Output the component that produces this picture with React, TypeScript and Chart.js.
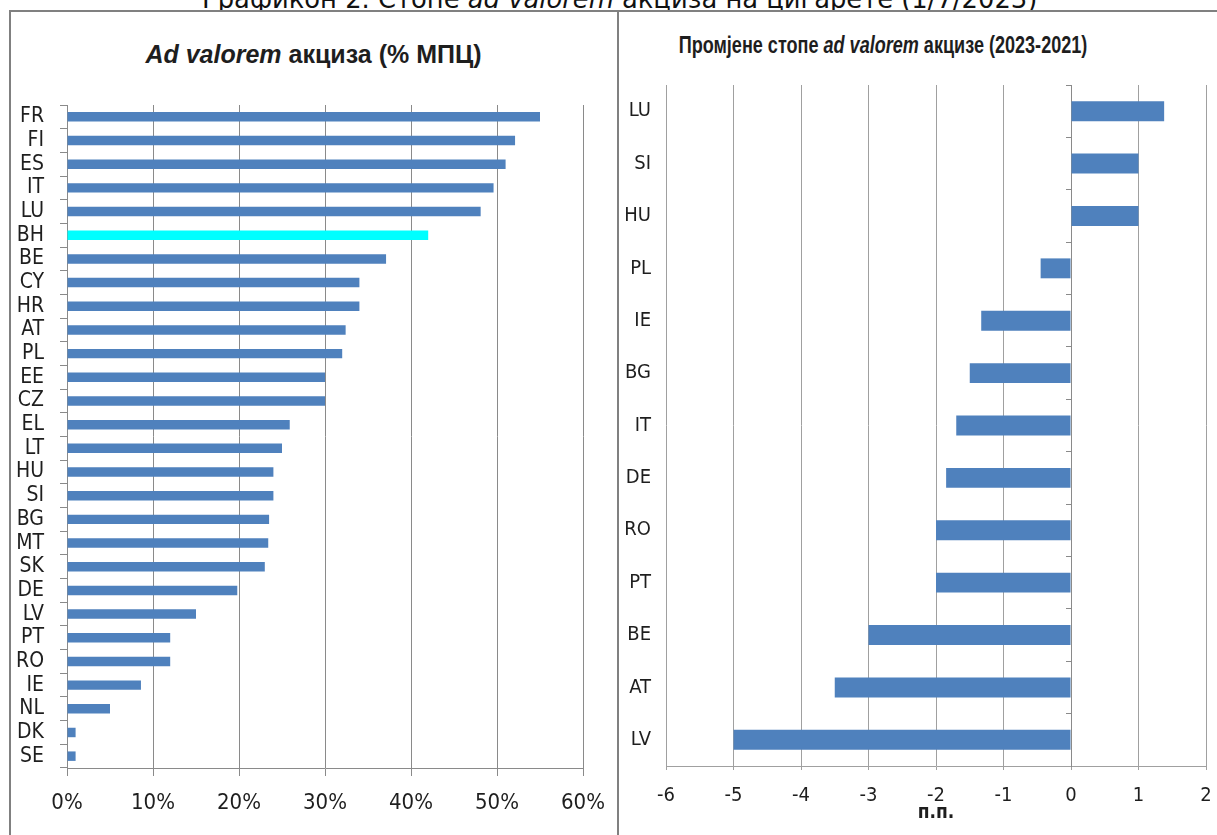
import React, { useEffect, useRef } from "react";
import { Chart, registerables } from "chart.js";

Chart.register(...registerables);

// ---------- data ----------
const leftCategories = [
  "FR", "FI", "ES", "IT", "LU", "BH", "BE", "CY", "HR", "AT", "PL", "EE", "CZ", "EL",
  "LT", "HU", "SI", "BG", "MT", "SK", "DE", "LV", "PT", "RO", "IE", "NL", "DK", "SE",
];
const leftValues = [
  55.0, 52.1, 51.0, 49.6, 48.1, 42.0, 37.1, 34.0, 34.0, 32.4, 32.0, 30.0, 30.0, 25.9,
  25.0, 24.0, 24.0, 23.5, 23.4, 23.0, 19.8, 15.0, 12.0, 12.0, 8.6, 5.0, 1.0, 1.0,
];
const leftTickValues = [0, 10, 20, 30, 40, 50, 60];
const highlightCategory = "BH";

const rightCategories = ["LU", "SI", "HU", "PL", "IE", "BG", "IT", "DE", "RO", "PT", "BE", "AT", "LV"];
const rightValues = [1.38, 1.0, 1.0, -0.45, -1.33, -1.5, -1.7, -1.85, -2.0, -2.0, -3.0, -3.5, -5.0];
const rightTickValues = [-6, -5, -4, -3, -2, -1, 0, 1, 2];
const rightAxisTitle = "п.п.";

// ---------- style ----------
const BLUE = "#4F81BD";
const CYAN = "#00FFFF";
const GRID = "#8a8a8a";
const GRID_R = "#a0a0a0";
const TEXT = "#1e1e1e";
const NARROW = "'DejaVu Sans Condensed', 'Liberation Sans Narrow', 'Liberation Sans', sans-serif";
const WIDE = "'Liberation Sans', Arial, sans-serif";

export default function App() {
  const leftRef = useRef<HTMLCanvasElement>(null);
  const rightRef = useRef<HTMLCanvasElement>(null);

  useEffect(() => {
    const left = new Chart(leftRef.current!, {
      type: "bar",
      data: {
        labels: leftCategories,
        datasets: [
          {
            data: leftValues,
            backgroundColor: leftCategories.map((c) => (c === highlightCategory ? CYAN : BLUE)),
            categoryPercentage: 1,
            barPercentage: 0.4,
            borderWidth: 0,
            xAxisID: "x",
            yAxisID: "y",
          },
        ],
      },
      options: {
        indexAxis: "y",
        animation: false,
        responsive: false,
        maintainAspectRatio: false,
        layout: { padding: { top: 93, right: 57, bottom: 0, left: 0 } },
        plugins: { legend: { display: false }, tooltip: { enabled: false }, title: { display: false } },
        scales: {
          x: {
            type: "linear",
            min: leftTickValues[0],
            max: leftTickValues[leftTickValues.length - 1],
            afterBuildTicks: (s: any) => {
              s.ticks = leftTickValues.map((v) => ({ value: v }));
            },
            ticks: {
              callback: (v: any) => `${v}%`,
              font: { family: NARROW, size: 22 },
              color: TEXT,
              padding: 14,
              maxRotation: 0,
              autoSkip: false,
            },
            grid: { color: GRID, lineWidth: 1, tickLength: 8 },
            border: { color: GRID, width: 1 },
            afterFit: (s: any) => {
              s.height = 67;
            },
          },
          y: {
            type: "category",
            offset: true,
            grid: { offset: true, drawOnChartArea: false, tickLength: 7, color: GRID },
            border: { color: GRID, width: 1 },
            ticks: { font: { family: NARROW, size: 21 }, color: TEXT, padding: 16, autoSkip: false },
            afterFit: (s: any) => {
              s.width = 56;
            },
          },
        },
      } as any,
    });

    const right = new Chart(rightRef.current!, {
      type: "bar",
      data: {
        labels: rightCategories,
        datasets: [
          {
            data: rightValues,
            backgroundColor: BLUE,
            categoryPercentage: 1,
            barPercentage: 0.38,
            borderWidth: 0,
            xAxisID: "x",
            yAxisID: "y",
          },
        ],
      },
      options: {
        indexAxis: "y",
        animation: false,
        responsive: false,
        maintainAspectRatio: false,
        layout: { padding: { top: 73, right: 54, bottom: 0, left: 0 } },
        plugins: { legend: { display: false }, tooltip: { enabled: false }, title: { display: false } },
        scales: {
          x: {
            type: "linear",
            min: rightTickValues[0],
            max: rightTickValues[rightTickValues.length - 1],
            afterBuildTicks: (s: any) => {
              s.ticks = rightTickValues.map((v) => ({ value: v }));
            },
            ticks: {
              font: { family: NARROW, size: 20 },
              color: TEXT,
              padding: 14,
              maxRotation: 0,
              autoSkip: false,
            },
            grid: { color: GRID_R, lineWidth: 1, tickLength: 4 },
            border: { color: GRID_R, width: 1 },
            title: {
              display: true,
              text: rightAxisTitle,
              font: { family: NARROW, size: 19, weight: "bold" },
              color: TEXT,
              padding: { top: 0, bottom: 11 },
            },
            afterFit: (s: any) => {
              s.height = 69;
            },
          },
          y: {
            type: "category",
            offset: true,
            grid: { display: false, drawTicks: false },
            border: { display: false },
            ticks: { font: { family: NARROW, size: 20 }, color: TEXT, padding: 15, autoSkip: false },
            afterFit: (s: any) => {
              s.width = 46;
            },
          },
          y2: {
            type: "category",
            position: { x: 0 },
            offset: true,
            grid: { offset: true, drawOnChartArea: false, tickLength: 5, color: GRID },
            border: { color: GRID, width: 1 },
            ticks: { display: false },
          },
        },
      } as any,
    });

    return () => {
      left.destroy();
      right.destroy();
    };
  }, []);

  return (
    <div
      style={{
        position: "fixed",
        left: 0,
        top: 0,
        width: 1217,
        height: 835,
        background: "#fff",
        overflow: "hidden",
      }}
    >
      <div
        style={{
          position: "absolute",
          left: 202,
          top: -16,
          fontFamily: "'DejaVu Sans', sans-serif",
          fontSize: 25.8,
          lineHeight: "30px",
          whiteSpace: "nowrap",
          color: "#111",
        }}
      >
        Графикон 2. Стопе <span style={{ fontStyle: "italic" }}>ad valorem</span> акциза на цигарете (1/7/2023)
      </div>
      <div
        style={{
          position: "absolute",
          left: 9,
          top: 10,
          width: 1240,
          height: 840,
          background: "#fff",
          borderTop: "2px solid #808080",
          borderLeft: "2px solid #808080",
        }}
      />
      <div style={{ position: "absolute", left: 617, top: 10, width: 2, height: 830, background: "#808080" }} />

      <div
        style={{
          position: "absolute",
          left: 9,
          width: 609,
          top: 39,
          textAlign: "center",
          fontFamily: WIDE,
          fontWeight: "bold",
          fontSize: 25,
          lineHeight: "30px",
          whiteSpace: "nowrap",
          color: TEXT,
        }}
      >
        <span style={{ fontStyle: "italic" }}>Ad valorem</span> акциза (% МПЦ)
      </div>
      <div
        style={{
          position: "absolute",
          left: 583,
          width: 600,
          top: 32,
          textAlign: "center",
          fontFamily: WIDE,
          fontWeight: "bold",
          fontSize: 23,
          lineHeight: "26px",
          whiteSpace: "nowrap",
          color: TEXT,
          transform: "scaleX(0.785)",
          transformOrigin: "50% 50%",
        }}
      >
        Промјене стопе <span style={{ fontStyle: "italic" }}>ad valorem</span> акцизе (2023-2021)
      </div>

      <canvas
        ref={leftRef}
        width={629}
        height={823}
        style={{ position: "absolute", left: 11, top: 12, width: 629, height: 823 }}
      />
      <canvas
        ref={rightRef}
        width={640}
        height={823}
        style={{ position: "absolute", left: 620, top: 12, width: 640, height: 823 }}
      />
    </div>
  );
}
